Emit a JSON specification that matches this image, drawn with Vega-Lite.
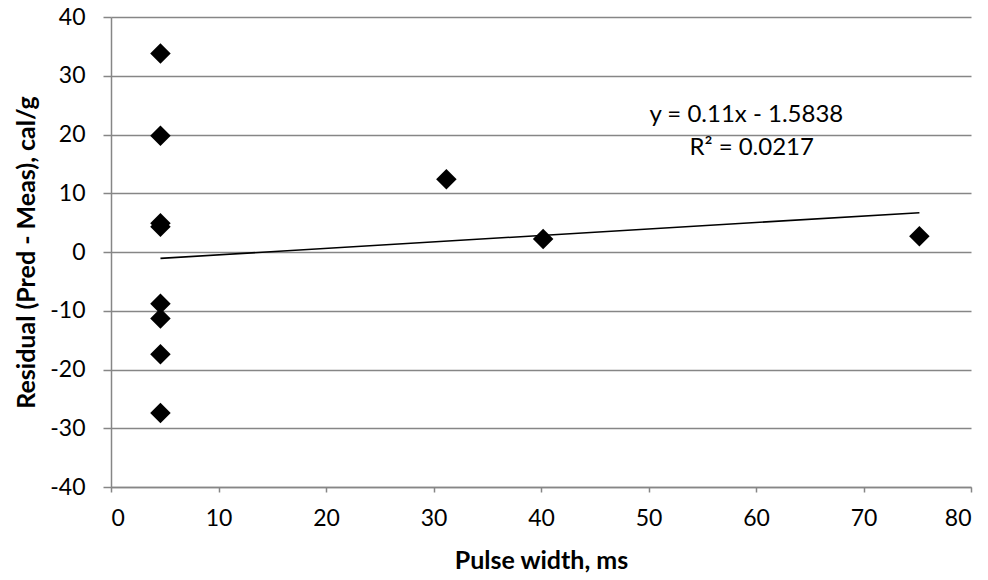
{
  "$schema": "https://vega.github.io/schema/vega-lite/v6.json",
  "width": 860,
  "height": 470,
  "autosize": "none",
  "padding": {"left": 111, "top": 17, "right": 17, "bottom": 93},
  "background": "white",
  "config": {
    "view": {"stroke": null},
    "font": "Lato",
    "axis": {
      "labelFont": "Lato",
      "labelFontSize": 23,
      "labelColor": "#000000",
      "titleFont": "Lato",
      "titleFontSize": 25,
      "titleFontWeight": "bold",
      "titleColor": "#000000",
      "domainColor": "#868686",
      "domainWidth": 1.5,
      "tickColor": "#868686",
      "tickWidth": 1.5,
      "gridColor": "#868686",
      "gridWidth": 1.5
    }
  },
  "datasets": {
    "points": [
      {"pulse": 4.6, "residual": 33.8},
      {"pulse": 4.6, "residual": 19.8},
      {"pulse": 4.6, "residual": 4.9},
      {"pulse": 4.6, "residual": 4.3},
      {"pulse": 4.6, "residual": -8.8},
      {"pulse": 4.6, "residual": -11.3},
      {"pulse": 4.6, "residual": -17.4},
      {"pulse": 4.6, "residual": -27.4},
      {"pulse": 31.2, "residual": 12.4},
      {"pulse": 40.2, "residual": 2.2},
      {"pulse": 75.2, "residual": 2.7}
    ],
    "trend": [
      {"pulse": 4.6, "residual": -1.08},
      {"pulse": 75.2, "residual": 6.69}
    ],
    "notes": [
      {"pulse": 59.1, "residual": 23.3, "label": "y = 0.11x - 1.5838"},
      {"pulse": 59.6, "residual": 17.7, "label": "R² = 0.0217"}
    ]
  },
  "layer": [
    {
      "data": {"name": "trend"},
      "mark": {"type": "line", "color": "#000000", "strokeWidth": 1.6},
      "encoding": {
        "x": {
          "field": "pulse", "type": "quantitative",
          "scale": {"domain": [0, 80], "nice": false, "zero": false},
          "axis": {
            "title": "Pulse width, ms",
            "values": [0, 10, 20, 30, 40, 50, 60, 70, 80],
            "labelExpr": "'' + datum.value",
            "grid": false,
            "tickSize": 5,
            "labelPadding": 15,
            "titlePadding": 18
          }
        },
        "y": {
          "field": "residual", "type": "quantitative",
          "scale": {"domain": [-40, 40], "nice": false, "zero": false},
          "axis": {
            "title": "Residual (Pred - Meas), cal/g",
            "values": [-40, -30, -20, -10, 0, 10, 20, 30, 40],
            "labelExpr": "'' + datum.value",
            "grid": true,
            "tickSize": 8,
            "labelPadding": 18,
            "titlePadding": 10
          }
        }
      }
    },
    {
      "data": {"name": "points"},
      "mark": {"type": "point", "shape": "diamond", "filled": true, "color": "#000000", "size": 420, "opacity": 1},
      "encoding": {
        "x": {"field": "pulse", "type": "quantitative"},
        "y": {"field": "residual", "type": "quantitative"}
      }
    },
    {
      "data": {"name": "notes"},
      "mark": {"type": "text", "font": "Lato", "fontSize": 24, "color": "#000000", "align": "center", "baseline": "middle"},
      "encoding": {
        "x": {"field": "pulse", "type": "quantitative"},
        "y": {"field": "residual", "type": "quantitative"},
        "text": {"field": "label"}
      }
    }
  ]
}
